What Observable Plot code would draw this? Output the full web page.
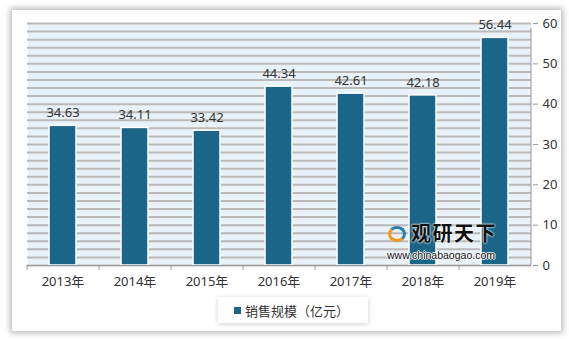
<!DOCTYPE html>
<html><head><meta charset="utf-8">
<script src="https://cdn.jsdelivr.net/npm/d3@7"></script>
<script src="https://cdn.jsdelivr.net/npm/@observablehq/plot@0.6"></script>
<style>
html,body{margin:0;padding:0;background:#fff;width:569px;height:339px;overflow:hidden;font-family:"Noto Sans","Noto Sans CJK SC",sans-serif;}
#card{position:absolute;left:12px;top:10px;width:549px;height:321px;background:#fff;box-shadow:0 0 6px 2px rgba(0,0,0,0.28);}
#chart{position:absolute;left:0;top:0;}
#legend{position:absolute;left:218px;top:297px;width:150px;height:26px;background:#fff;box-shadow:0 1px 5px rgba(0,0,0,0.18);font-size:13px;color:#333;display:flex;align-items:center;font-family:"Noto Sans CJK SC",sans-serif;}
#legend .sw{width:7px;height:7px;background:#1b6688;margin-left:16px;margin-right:4px;}
#wm{position:absolute;left:385px;top:222px;width:120px;height:40px;pointer-events:none;}
#wm .t{position:absolute;left:26px;top:0;font-size:20px;font-weight:bold;color:#111;font-family:"Noto Sans CJK SC",sans-serif;letter-spacing:1.5px;line-height:22px;text-shadow:0 0 2px #fff,0 0 2px #fff;}
#wm .u{position:absolute;left:2px;top:27px;font-size:10.5px;color:#111;font-family:"Liberation Sans",sans-serif;line-height:12px;letter-spacing:0px;text-shadow:1px 0 0 #fff,-1px 0 0 #fff,0 1px 0 #fff,0 -1px 0 #fff;}
#wm .logo{position:absolute;left:3px;top:4px;width:18px;height:16px;border-radius:50%;border:3px solid #f39a1e;border-right-color:#2b7fb0;border-top-color:#2b7fb0;box-sizing:border-box;}
</style></head>
<body>
<div id="card"></div>
<div id="chart"></div>
<div id="wm"><div class="logo"></div><div class="t">观研天下</div><div class="u">www.chinabaogao.com</div></div>
<div id="legend"><div class="sw"></div><span>销售规模（亿元）</span></div>
<script>
const years = ["2013年","2014年","2015年","2016年","2017年","2018年","2019年"];
const sales = [34.63, 34.11, 33.42, 44.34, 42.61, 42.18, 56.44];
const yTicks = [0,10,20,30,40,50,60];
const gridValues = d3.range(0, 61, 2);

const data = years.map((y,i)=>({year:y, value:sales[i]}));
const W = 569, H = 290, mL = 27, mR = 38;
const step = (W - mL - mR) / years.length;

const chart = Plot.plot({
  width: W, height: H,
  marginLeft: mL, marginRight: mR, marginTop: 23, marginBottom: 25,
  style:{fontFamily:'"Noto Sans","Noto Sans CJK SC",sans-serif', fontSize:"13px", color:"#333", background:"transparent"},
  x:{domain:years, paddingInner:0.62, paddingOuter:0.31, label:null},
  y:{domain:[0,60], label:null},
  axis:null,
  marks:[
    Plot.frame({fill:"#eaf2f9", stroke:null}),
    Plot.ruleY(gridValues, {stroke:"#b9b9b9", strokeWidth:2}),
    Plot.barY(data, {x:"year", y:"value", fill:"#1b6688", stroke:"#fff", strokeWidth:1.5,
      style:{filter:"drop-shadow(-2px -1px 2.5px rgba(0,0,0,0.45))"}}),
    Plot.text(data, {x:"year", y:"value", text:d=>d.value.toFixed(2), dy:-13, fill:"#333", fontSize:13}),
    Plot.ruleY([0], {stroke:"#9a9a9a", strokeWidth:1}),
    Plot.ruleX(years, {x:d=>d, y1:0, y2:0, dx:-step/2, insetBottom:-5, stroke:"#9a9a9a"}),
    Plot.ruleX([years[years.length-1]], {x:d=>d, y1:0, y2:60, dx:step/2, insetBottom:-5, stroke:"#9a9a9a"}),
    Plot.axisX({tickSize:0, tickPadding:11, fontSize:13, fill:"#333"}),
    Plot.axisY({anchor:"right", ticks:yTicks, tickSize:5, tickPadding:5, dx:1, stroke:"#9a9a9a", fill:"#333", fontSize:13, tickFormat:d=>d})
  ]
});
document.getElementById("chart").appendChild(chart);
</script>
</body></html>
